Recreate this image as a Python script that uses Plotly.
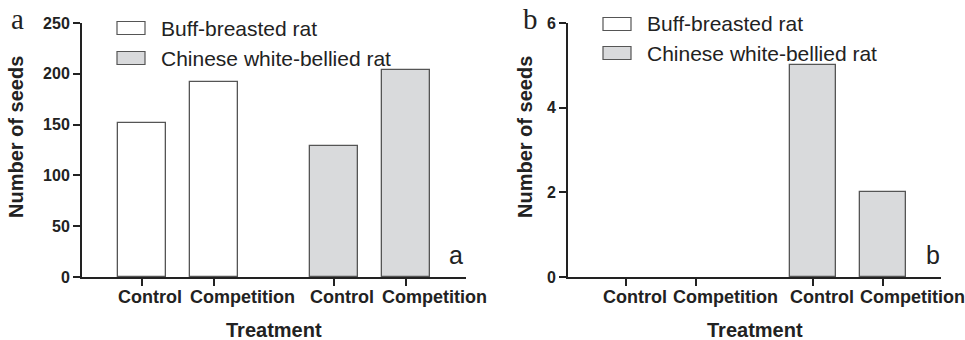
import plotly.graph_objects as go

# ---- data ----
treatments = ["Control", "Competition"]
species = ["Buff-breasted rat", "Chinese white-bellied rat"]
seeds_a_buff = [152, 192]
seeds_a_chinese = [129, 204]
seeds_b_buff = [0, 0]
seeds_b_chinese = [5, 2]
yticks_a = [0, 50, 100, 150, 200, 250]
yticks_b = [0, 2, 4, 6]

# ---- style ----
W, H = 965, 340
GROUP_GAP = 0.67
BAR_W = 0.66
FILL = ["#ffffff", "#d9dadc"]
EDGE = "#555555"
AX = "#222222"
SANS = "Liberation Sans, Arial, sans-serif"
SERIF = "Liberation Serif, Times New Roman, serif"


def positions(group):
    return [1 + group * (len(treatments) + GROUP_GAP) + i for i in range(len(treatments))]


def px(x):
    return x / W


def py(y):
    return 1 - y / H


fig = go.Figure()

panels = [
    ("x", "y", [seeds_a_buff, seeds_a_chinese]),
    ("x2", "y2", [seeds_b_buff, seeds_b_chinese]),
]
for xa, ya, series in panels:
    for g, vals in enumerate(series):
        fig.add_trace(go.Bar(
            x=positions(g), y=vals, width=BAR_W, xaxis=xa, yaxis=ya,
            marker=dict(color=FILL[g], line=dict(color=EDGE, width=[1.3 if v else 0 for v in vals])),
            showlegend=False, hoverinfo="skip",
        ))

all_pos = positions(0) + positions(1)
all_labels = treatments * 2
xrange_ = [all_pos[0] - 0.83, all_pos[-1] + 0.83]

xcommon = dict(
    range=xrange_, tickvals=all_pos, showticklabels=False,
    showline=True, linecolor=AX, linewidth=2, ticks="outside", ticklen=7,
    tickwidth=2, tickcolor=AX, showgrid=False, zeroline=False, automargin=False,
)
ycommon = dict(
    showline=True, linecolor=AX, linewidth=2, ticks="outside", ticklen=7,
    tickwidth=2, tickcolor=AX, showgrid=False, zeroline=False,
    tickfont=dict(family=SANS, size=16, color=AX, weight="bold"), automargin=False,
)

ybot, ytop = py(277), py(23)
fig.update_layout(
    width=W, height=H, margin=dict(l=0, r=0, t=0, b=0),
    paper_bgcolor="white", plot_bgcolor="white", bargap=0,
    xaxis=dict(domain=[px(82), px(466)], anchor="y", **xcommon),
    yaxis=dict(domain=[ybot, ytop], anchor="x", range=[0, 250], tickvals=yticks_a, **ycommon),
    xaxis2=dict(domain=[px(568), px(941)], anchor="y2", **xcommon),
    yaxis2=dict(domain=[ybot, ytop], anchor="x2", range=[0, 6], tickvals=yticks_b, **ycommon),
    font=dict(family=SANS, color=AX),
)

ann = []
shapes = []
# category labels, left-aligned at each bar's left edge (as in the source figure)
for xa in ["x", "x2"]:
    for pos, lab in zip(all_pos, all_labels):
        ann.append(dict(text=f"<b>{lab}</b>", x=pos - BAR_W / 2, y=py(296.5), xref=xa, yref="paper",
                        showarrow=False, font=dict(family=SANS, size=18, color=AX),
                        xanchor="left", yanchor="middle", xshift=-2))

decor = [
    dict(ytitle_x=16, xtitle_x=274, letter="a", letter_x=17, inner_x=456, box_x=117, text_x=159, rows=[28, 58]),
    dict(ytitle_x=525, xtitle_x=755, letter="b", letter_x=530, inner_x=933, box_x=603, text_x=645, rows=[24, 53]),
]
for d in decor:
    ann.append(dict(text="<b>Number of seeds</b>", x=px(d["ytitle_x"]), y=py(137), xref="paper", yref="paper",
                    textangle=-90, showarrow=False, font=dict(family=SANS, size=20, color=AX),
                    xanchor="center", yanchor="middle"))
    ann.append(dict(text="<b>Treatment</b>", x=px(d["xtitle_x"]), y=py(330), xref="paper", yref="paper",
                    showarrow=False, font=dict(family=SANS, size=20, color=AX),
                    xanchor="center", yanchor="middle"))
    ann.append(dict(text=d["letter"], x=px(d["letter_x"]), y=py(19), xref="paper", yref="paper",
                    showarrow=False, font=dict(family=SERIF, size=29, color=AX),
                    xanchor="center", yanchor="middle"))
    ann.append(dict(text=d["letter"], x=px(d["inner_x"]), y=py(255), xref="paper", yref="paper",
                    showarrow=False, font=dict(family=SANS, size=25, color=AX),
                    xanchor="center", yanchor="middle"))
    for i, name in enumerate(species):
        cy = d["rows"][i]
        shapes.append(dict(type="rect", xref="paper", yref="paper",
                           x0=px(d["box_x"]), x1=px(d["box_x"] + 28), y0=py(cy - 6.5), y1=py(cy + 6.5),
                           fillcolor=FILL[i], line=dict(color=EDGE, width=1.2)))
        ann.append(dict(text=name, x=px(d["text_x"]), y=py(cy), xref="paper", yref="paper",
                        showarrow=False, font=dict(family=SANS, size=21, color=AX),
                        xanchor="left", yanchor="middle"))

fig.update_layout(annotations=ann, shapes=shapes)
fig.write_html("out.html", config={"displayModeBar": False},
               post_script="document.body.style.margin='0';")
